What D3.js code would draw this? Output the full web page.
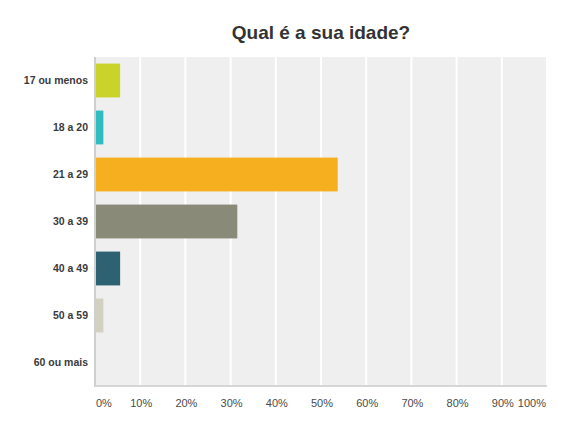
<!DOCTYPE html>
<html><head><meta charset="utf-8">
<script src="https://cdn.jsdelivr.net/npm/d3@7"></script>
<style>
body{margin:0;background:#fff;}
text{font-family:"Liberation Sans",Arial,sans-serif;}
</style></head>
<body><svg id="c" width="586" height="424"></svg>
<script>
const categories = ["17 ou menos","18 a 20","21 a 29","30 a 39","40 a 49","50 a 59","60 ou mais"];
const values = [5.56,1.85,53.70,31.48,5.56,1.85,0];
const colors = ["#c9d32a","#2fbdbf","#f6af1f","#8a8a78","#2e6272","#d1d0c1","#999999"];
const ticks = [0,10,20,30,40,50,60,70,80,90,100];
const title = "Qual é a sua idade?";

const svg = d3.select("#c");
const L=95, R=547, T=57, B=386;
const x = d3.scaleLinear().domain([0,100]).range([L,R]);
const y = d3.scaleBand().domain(categories).range([T,B]).paddingInner(0.28).paddingOuter(0.14);

svg.append("rect").attr("x",L).attr("y",T).attr("width",R-L).attr("height",B-T).attr("fill","#efefef");
svg.append("g").selectAll("line").data(ticks.slice(1)).join("line")
  .attr("x1",d=>x(d)).attr("x2",d=>x(d)).attr("y1",T).attr("y2",B)
  .attr("stroke","#fff").attr("stroke-width",2);

svg.append("g").selectAll("rect").data(categories).join("rect")
  .attr("x",x(0)+1).attr("y",d=>y(d))
  .attr("width",(d,i)=>Math.max(0,x(values[i])-x(0)-1))
  .attr("height",y.bandwidth())
  .attr("fill",(d,i)=>colors[i]);

svg.append("line").attr("x1",L).attr("x2",L).attr("y1",T).attr("y2",B+1).attr("stroke","#cfcfcf").attr("stroke-width",2);
svg.append("line").attr("x1",L).attr("x2",R).attr("y1",B).attr("y2",B).attr("stroke","#d6d6d6").attr("stroke-width",2);

svg.append("g").selectAll("text").data(categories).join("text")
  .attr("x",88).attr("y",d=>y(d)+y.bandwidth()/2).attr("dy","0.35em")
  .attr("text-anchor","end").attr("font-size","10.5px").attr("font-weight","bold").attr("fill","#3a3a3a")
  .text(d=>d);

svg.append("g").selectAll("text").data(ticks).join("text")
  .attr("x",d=>d===0?x(d)+1:(d===100?x(d)-1:x(d)+1))
  .attr("y",407)
  .attr("text-anchor",d=>d===0?"start":(d===100?"end":"middle"))
  .attr("font-size","11px").attr("fill","#4a4a4a")
  .text(d=>d+"%");

svg.append("text").attr("x",321).attr("y",39).attr("text-anchor","middle")
  .attr("font-size","19px").attr("font-weight","bold").attr("fill","#333")
  .text(title);
</script></body></html>
